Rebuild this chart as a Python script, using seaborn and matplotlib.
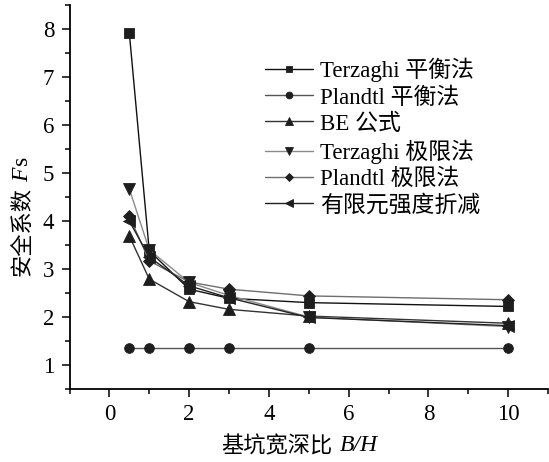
import matplotlib as mpl

mpl.use("Agg")

import matplotlib.pyplot as plt
import numpy as np
import pandas as pd
import seaborn as sns
from matplotlib.ticker import MultipleLocator

sns.set_theme(style="ticks")
plt.rcParams["font.family"] = ["Liberation Serif", "Noto Sans CJK SC"]
plt.rcParams["mathtext.fontset"] = "custom"
plt.rcParams["mathtext.rm"] = "Liberation Serif"
plt.rcParams["mathtext.it"] = "Liberation Serif:italic"

# ---- data ----
ratio_bh = [0.5, 1, 2, 3, 5, 10]
terzaghi_eq = [7.92, 3.38, 2.58, 2.39, 2.30, 2.22]
plandtl_eq = [1.35, 1.35, 1.35, 1.35, 1.35, 1.35]
be_formula = [3.69, 2.79, 2.32, 2.16, 2.02, 1.87]
terzaghi_lim = [4.67, 3.40, 2.72, 2.45, 2.00, 1.80]
plandtl_lim = [4.10, 3.17, 2.73, 2.58, 2.44, 2.36]
fem_srm = [4.00, 3.25, 2.65, 2.40, 1.99, 1.82]

series_names = ["Terzaghi 平衡法", "Plandtl 平衡法", "BE 公式", "Terzaghi 极限法", "Plandtl 极限法", "有限元强度折减"]
series_values = [terzaghi_eq, plandtl_eq, be_formula, terzaghi_lim, plandtl_lim, fem_srm]
markers = ["s", "o", "^", "v", "D", "<"]
marker_sizes = [7, 7, 8, 8, 6.5, 8]
line_colors = ["#111111", "#555555", "#333333", "#8a8a8a", "#6e6e6e", "#222222"]

df = pd.DataFrame(
    [(name, x, y) for name, vals in zip(series_names, series_values) for x, y in zip(ratio_bh, vals)],
    columns=["series", "B/H", "Fs"],
)

fig = plt.figure(figsize=(5.49, 4.62), dpi=100)
ax = fig.add_axes([0.1266, 0.158, 0.8716, 0.831])

for name, mk, ms, lc in zip(series_names, markers, marker_sizes, line_colors):
    sub = df[df["series"] == name]
    sns.lineplot(
        data=sub, x="B/H", y="Fs", ax=ax, label=name,
        color=lc, linewidth=1.0, marker=mk, markersize=ms,
        markerfacecolor="#1e1e1e", markeredgecolor="#1e1e1e", markeredgewidth=0.6,
    )

ax.set_xlim(-1, 11)
ax.set_ylim(0.5, 8.5)
ax.xaxis.set_major_locator(MultipleLocator(2))
ax.xaxis.set_minor_locator(MultipleLocator(1))
ax.yaxis.set_major_locator(MultipleLocator(1))
ax.yaxis.set_minor_locator(MultipleLocator(0.5))
ax.tick_params(which="major", direction="out", length=6, width=1.1, labelsize=16.5, pad=5,
               color="black", labelcolor="black")
ax.tick_params(which="minor", direction="out", length=3.5, width=1.1, color="black")
ax.set_yticks(range(1, 9))
sns.despine(ax=ax)
for side in ["left", "bottom"]:
    ax.spines[side].set_linewidth(1.3)
    ax.spines[side].set_color("black")
ax.set_xlabel("")
ax.set_ylabel("")

# axis titles: CJK part plus italic latin symbols
ax.text(0.55, -0.118, "基坑宽深比", transform=ax.transAxes, ha="right", va="top",
        fontsize=16, family=["Noto Sans CJK SC"], color="black")
ax.text(0.565, -0.121, "B/H", transform=ax.transAxes, ha="left", va="top",
        fontsize=17, family="Liberation Serif", style="italic", color="black")

t_cn = ax.text(-0.099, 0.41, "安全系数", transform=ax.transAxes, rotation=90, ha="center", va="center",
               fontsize=16, family=["Noto Sans CJK SC"], color="black")
ax.annotate(" $F$s", xy=(0.5, 1.0), xycoords=t_cn, rotation=90, ha="center", va="bottom",
            fontsize=17, color="black")

leg = ax.legend(
    loc="upper left", bbox_to_anchor=(265 / 549, 1 - 58 / 462), bbox_transform=fig.transFigure,
    frameon=False, fontsize=16.5, handlelength=2.1, handletextpad=0.3, labelspacing=0.21,
    borderpad=0, borderaxespad=0, markerscale=0.7,
)
for txt in leg.get_texts():
    txt.set_color("black")

fig.savefig("out.png", dpi=100)
